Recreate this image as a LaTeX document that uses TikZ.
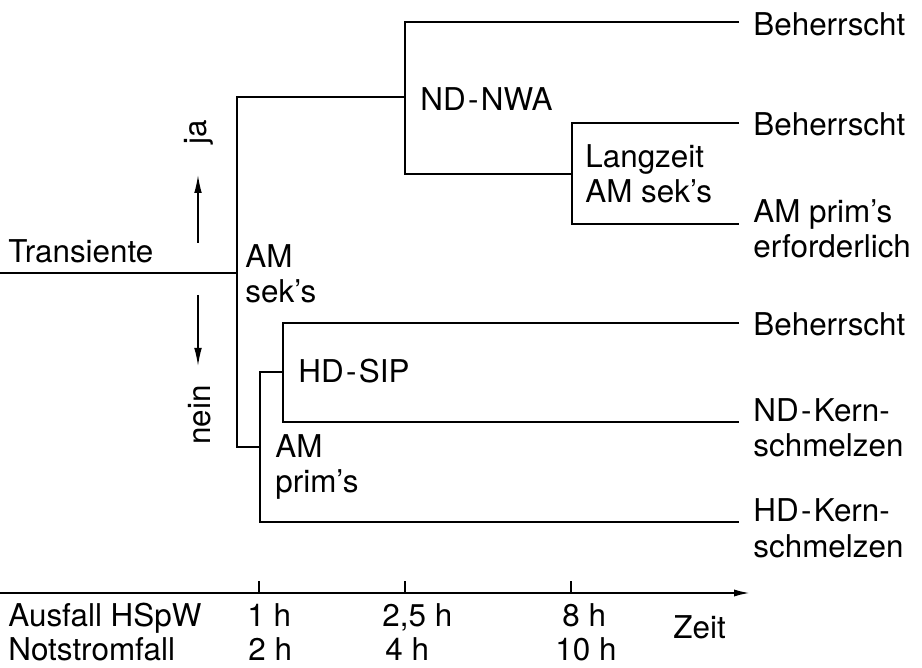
\documentclass[tikz,border=0pt]{standalone}
\usepackage{fontspec}
\setmainfont{TeX Gyre Heros}
\usetikzlibrary{arrows.meta}

\tikzset{
  txt/.style={inner sep=0pt, align=left, anchor=base west},
  tree/.style={line width=0.75pt},
}

\begin{document}
\begin{tikzpicture}[x=0.5pt, y=-0.5pt, every node/.style={font=\fontsize{15.7}{17.5}\selectfont}]
  \useasboundingbox (0,0) rectangle (922,668);

  % branch points
  \coordinate (t0) at (0,273);
  \coordinate (k1) at (237,273);
  \coordinate (k2) at (405,97);
  \coordinate (k3) at (572,174);
  \coordinate (k4) at (260,447);
  \coordinate (k5) at (283,372);

  % line ends
  \coordinate (e1) at (739,22);
  \coordinate (e2) at (739,123);
  \coordinate (e3) at (739,224);
  \coordinate (e4) at (739,323);
  \coordinate (e5) at (739,422);
  \coordinate (e6) at (739,522);

  % outcomes (base = last line)
  \node[txt] (o1) at (753,36)  {Beherrscht};
  \node[txt] (o2) at (753,136) {Beherrscht};
  \node[txt] (o3) at (753,258) {AM prim's\\erforderlich};
  \node[txt] (o4) at (753,336) {Beherrscht};
  \node[txt] (o5) at (753,457) {ND\kern1.2pt-\kern1.2pt Kern-\\schmelzen};
  \node[txt] (o6) at (753,557) {HD\kern1.2pt-\kern1.2pt Kern-\\schmelzen};

  % tree
  \draw[tree] (t0) -- (k1);
  \draw[tree] (k1) |- (k2);
  \draw[tree] (e1) -| (k2) |- (k3);
  \draw[tree] (e2) -| (k3) |- (e3);
  \draw[tree] (k1) |- (k4);
  \draw[tree] (k5) -| (k4) |- (e6);
  \draw[tree] (e4) -| (k5) |- (e5);

  % labels at the branches
  \node[txt] (trans) at (8,263)    {Transiente};
  \node[txt] (amsek) at (245,303)  {AM\\sek's};
  \node[txt] (amprim) at (275,493) {AM\\prim's};
  \node[txt] (hdsip) at (298,383)  {HD\kern1.2pt-\kern1.2pt SIP};
  \node[txt] (ndnwa) at (420,111)  {ND\kern1.2pt-\kern1.2pt NWA};
  \node[txt] (lzsek) at (585,203)  {Langzeit\\AM sek's};

  % ja / nein
  \node[inner sep=0pt, rotate=90] (ja) at (199,132) {ja};
  \node[inner sep=0pt, rotate=90] (nein) at (200,415) {nein};
  \coordinate (ja0) at (198,243);
  \coordinate (ja1) at (198,175);
  \coordinate (ne0) at (198,295);
  \coordinate (ne1) at (198,366);
  \draw[line width=0.7pt, -{Latex[length=9pt,width=3.8pt]}] (ja0) -- (ja1);
  \draw[line width=0.7pt, -{Latex[length=9pt,width=3.8pt]}] (ne0) -- (ne1);

  % time axis
  \coordinate (a0) at (0,593);
  \coordinate (a1) at (750,593);
  \draw[line width=1pt, -{Latex[length=8pt,width=3.6pt]}] (a0) -- (a1);
  \foreach \xx/\nm in {259/m1, 405/m2, 571/m3}{
    \coordinate (\nm) at (\xx,593);
    \draw[line width=0.6pt] (\nm) -- ++(0,-12);
  }

  \node[txt] (hspw) at (8,626)   {Ausfall HSpW};
  \node[txt] (nots) at (8,660)   {Notstromfall};
  \node[txt] (h1)   at (247,626) {1 h};
  \node[txt] (h25)  at (382,626) {2,5 h};
  \node[txt] (h8)   at (562,626) {8 h};
  \node[txt] (h2)   at (248,660) {2 h};
  \node[txt] (h4)   at (385,660) {4 h};
  \node[txt] (h10)  at (555,660) {10 h};
  \node[txt] (zeit) at (673,638) {Zeit};
\end{tikzpicture}
\end{document}
